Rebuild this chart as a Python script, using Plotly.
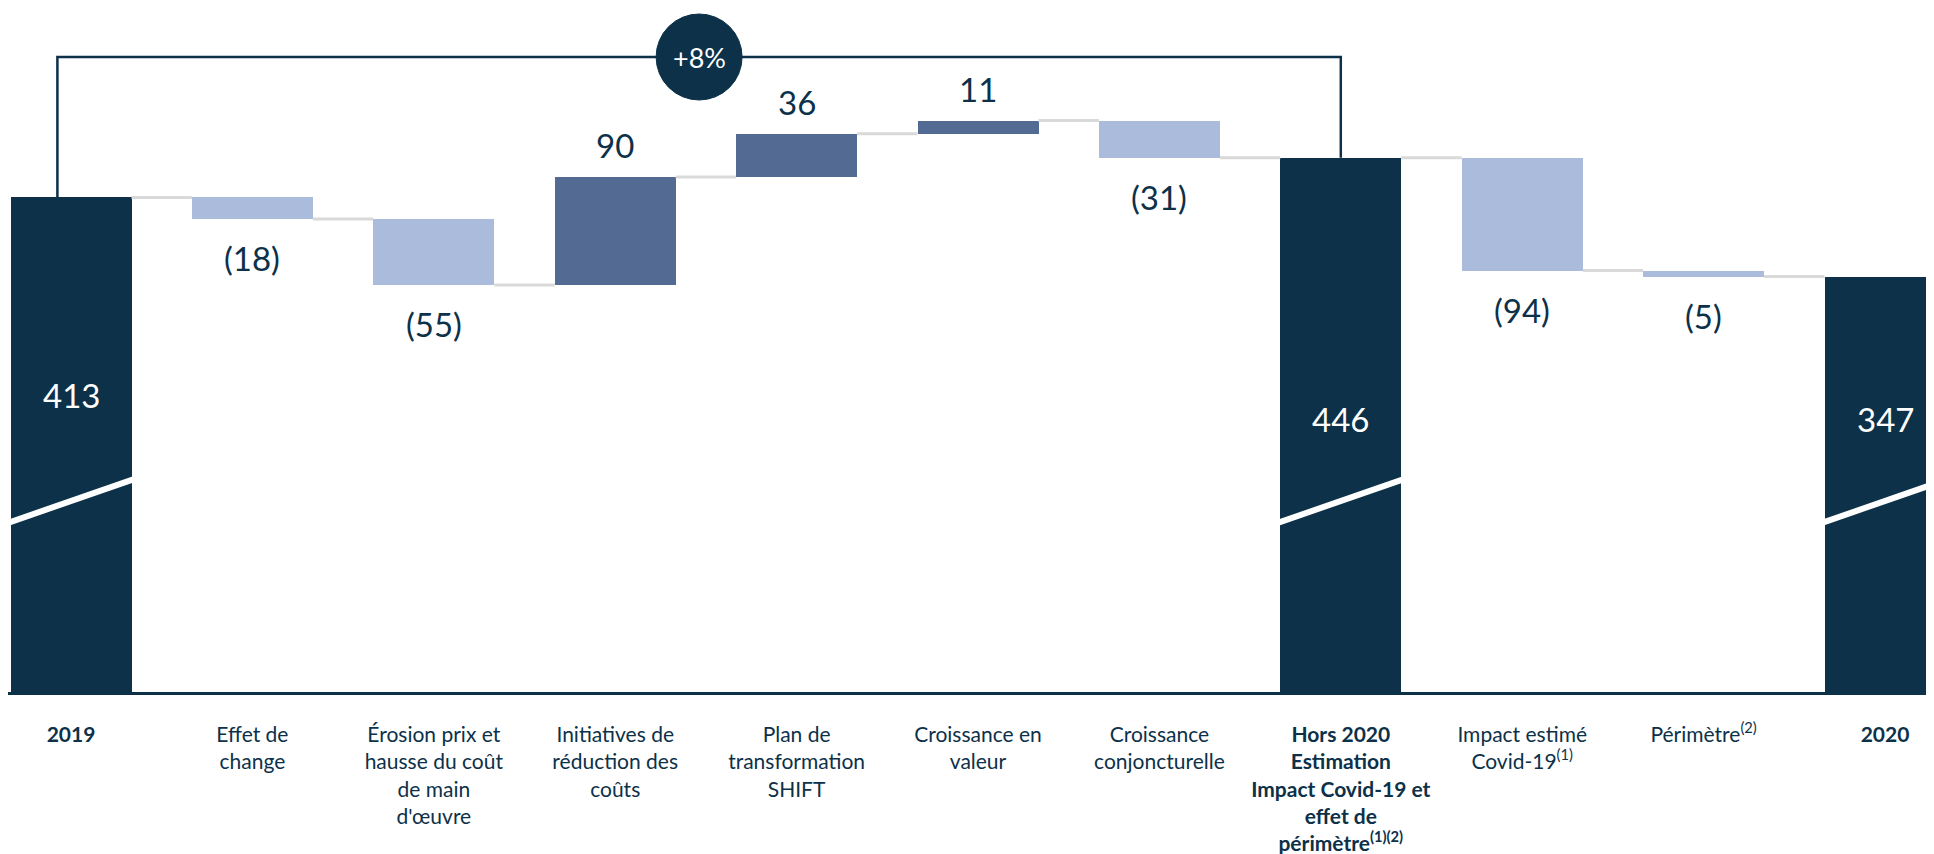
import plotly.graph_objects as go

# ---------------- data ----------------
tick_labels = [
    "<b>2019</b>",
    "Effet de<br>change",
    "Érosion prix et<br>hausse du coût<br>de main<br>d'œuvre",
    "Initiatives de<br>réduction des<br>coûts",
    "Plan de<br>transformation<br>SHIFT",
    "Croissance en<br>valeur",
    "Croissance<br>conjoncturelle",
    "<b>Hors 2020<br>Estimation<br>Impact Covid-19 et<br>effet de<br>périmètre<sup>(1)(2)</sup></b>",
    "Impact estimé<br>Covid-19<sup>(1)</sup>",
    "Périmètre<sup>(2)</sup>",
    "<b>2020</b>",
]
values = [413, -18, -55, 90, 36, 11, -31, 446, -94, -5, 347]
kinds = ["total", "delta", "delta", "delta", "delta", "delta", "delta",
         "total", "delta", "delta", "total"]
growth_label = "+8%"

# ---------------- style ----------------
NAVY = "#0C3149"
POS = "#536A93"
NEG = "#AABBDB"
CONN = "#D9D9D9"
FONT = "Lato"
BAR_W = 0.667
PX_PER_UNIT = 1.2
W, H = 1934, 854
PLOT_H = 685          # page has an 8px body margin, so plot top sits at y=8
SPACING = 181.4

# ---------------- computation ----------------
x = list(range(len(values)))
bases, heights, levels, colors = [], [], [], []
level = 0
for v, k in zip(values, kinds):
    if k == "total":
        bases.append(0)
        heights.append(v)
        level = v
        colors.append(NAVY)
    else:
        bases.append(level)
        heights.append(v)
        level += v
        colors.append(POS if v > 0 else NEG)
    levels.append(level)

fig = go.Figure()

# connectors
cx, cy = [], []
for i in range(len(values) - 1):
    cx += [i + BAR_W / 2, i + 1 - BAR_W / 2, None]
    cy += [levels[i], levels[i], None]
fig.add_trace(go.Scatter(x=cx, y=cy, mode="lines",
                         line=dict(color=CONN, width=3), hoverinfo="skip"))

fig.add_trace(go.Bar(x=x, y=heights, base=bases, width=BAR_W,
                     marker=dict(color=colors, line=dict(width=0))))

# bracket
totals_idx = [i for i, k in enumerate(kinds) if k == "total"]
first_total, mid_total = totals_idx[0], totals_idx[1]
br_y = 530
bx0 = first_total - 0.075
fig.add_trace(go.Scatter(
    x=[bx0, bx0, mid_total, mid_total],
    y=[values[first_total], br_y, br_y, values[mid_total]],
    mode="lines", line=dict(color=NAVY, width=2.5), hoverinfo="skip"))

shapes = []
annotations = []

# break stripes on totals
for i in totals_idx:
    shapes.append(dict(type="line", xref="x", yref="y",
                       x0=i - BAR_W / 2 - 0.01, x1=i + BAR_W / 2 + 0.01,
                       y0=142, y1=178,
                       line=dict(color="white", width=6), layer="above"))

# circle badge
cxm = (bx0 + mid_total) / 2
shapes.append(dict(type="circle", xref="x", yref="y",
                   xsizemode="pixel", ysizemode="pixel",
                   xanchor=cxm, yanchor=br_y,
                   x0=-43, x1=43, y0=-43, y1=43,
                   fillcolor=NAVY, line=dict(color=NAVY, width=1), layer="above"))
annotations.append(dict(x=cxm, y=br_y, xref="x", yref="y", text=growth_label,
                        showarrow=False, font=dict(family=FONT, size=27, color="white"),
                        xanchor="center", yanchor="middle"))

# value labels
total_label_y = {0: 248, 7: 228, 10: 228}
for i, (v, k) in enumerate(zip(values, kinds)):
    if k == "total":
        annotations.append(dict(x=i, y=total_label_y.get(i, v * 0.55), xref="x", yref="y",
                                text=str(v), showarrow=False,
                                font=dict(family=FONT, size=33, color="white"),
                                xanchor="center", yanchor="middle"))
    elif v > 0:
        annotations.append(dict(x=i, y=levels[i], xref="x", yref="y",
                                text=str(v), showarrow=False, yshift=32,
                                font=dict(family=FONT, size=33, color=NAVY),
                                xanchor="center", yanchor="middle"))
    else:
        annotations.append(dict(x=i, y=levels[i], xref="x", yref="y",
                                text="(%d)" % abs(v), showarrow=False, yshift=-39,
                                font=dict(family=FONT, size=33, color=NAVY),
                                xanchor="center", yanchor="middle"))

x_left = -63 / SPACING
fig.update_layout(
    width=W, height=H,
    margin=dict(l=0, r=0, t=0, b=H - PLOT_H),
    paper_bgcolor="white", plot_bgcolor="white",
    showlegend=False,
    shapes=shapes, annotations=annotations,
    bargap=0,
)
fig.update_xaxes(range=[x_left, x_left + W / SPACING], tickmode="array",
                 tickvals=x, ticktext=tick_labels,
                 showgrid=False, zeroline=False, showline=False, ticks="",
                 tickfont=dict(family=FONT, size=21, color=NAVY),
                 ticklabelstandoff=27, tickangle=0)
fig.update_yaxes(range=[0, PLOT_H / PX_PER_UNIT], showgrid=False, zeroline=True,
                 zerolinecolor=NAVY, zerolinewidth=3, showticklabels=False, ticks="",
                 showline=False)

fig.write_html("out.html")
